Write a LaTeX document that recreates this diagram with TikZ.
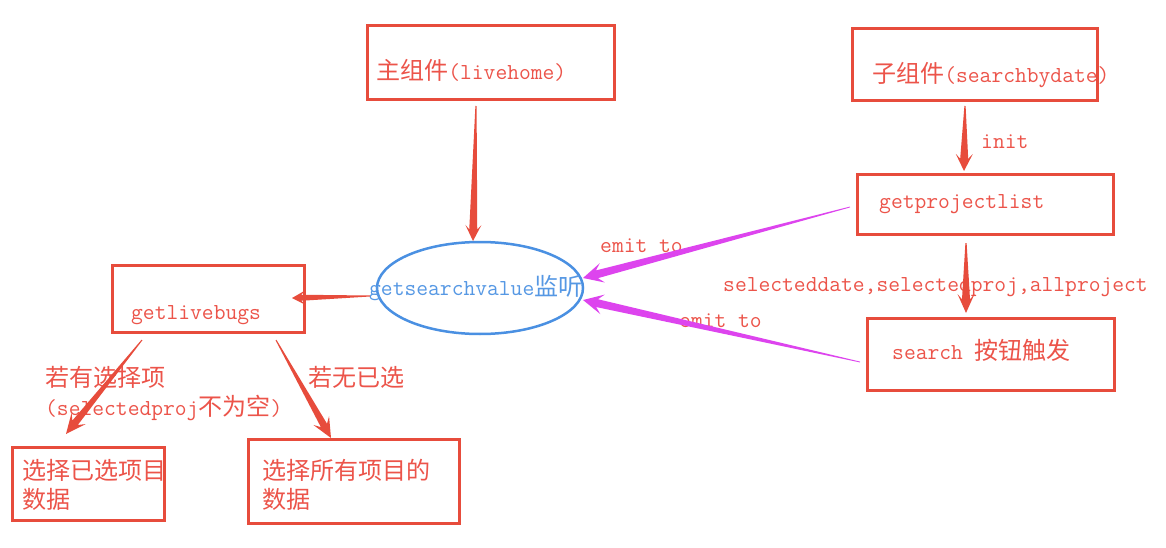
\documentclass[tikz,border=0pt]{standalone}
\usepackage{fontspec}
\newfontfamily\cjk{Noto Sans CJK SC}[Scale=1.05]
\usetikzlibrary{calc,shapes.geometric}
\definecolor{rd}{RGB}{231,76,60}
\definecolor{rdt}{RGB}{236,84,74}
\definecolor{mg}{RGB}{221,68,238}
\definecolor{bl}{RGB}{74,144,226}
\definecolor{blt}{RGB}{86,152,228}
% tapered arrow: #1 colour, #2 tail, #3 tip, #4 tail half width, #5 shaft half width, #6 head half width, #7 head length
\newcommand\tapr[7]{%
  \coordinate (tpW) at ($(#3)!#7!(#2)$);
  \coordinate (tpS) at ($(#3)!0.72*#7!(#2)$);
  \fill[#1] ($(#2)!#4!90:(#3)$) -- ($(tpS)!#5!90:(#3)$) -- ($(tpW)!#6!90:(#3)$) -- (#3)
    -- ($(tpW)!#6!-90:(#3)$) -- ($(tpS)!#5!-90:(#3)$) -- ($(#2)!#4!-90:(#3)$) -- cycle;
}
\begin{document}
\begin{tikzpicture}[x=1pt,y=-1pt,
  box/.style={draw=rd,line width=3pt,rectangle,inner sep=0pt},
  txt/.style={anchor=base west,inner sep=0pt,text=rdt,font=\ttfamily\fontsize{22.9}{27}\selectfont},
  btxt/.style={txt,text=blt}]
\useasboundingbox[fill=white] (0,0) rectangle (1166,548);
% boxes
\node[box,minimum width=247pt,minimum height=74pt] (lh) at (490.5,63) {};
\node[box,minimum width=245pt,minimum height=72pt] (sb) at (974.5,65) {};
\node[box,minimum width=256pt,minimum height=59pt] (gp) at (985,204.5) {};
\node[box,minimum width=247pt,minimum height=72pt] (sr) at (990.5,354) {};
\node[box,minimum width=192pt,minimum height=67pt] (gl) at (208,298.5) {};
\node[box,minimum width=152pt,minimum height=73pt] (s1) at (88,483.5) {};
\node[box,minimum width=211pt,minimum height=84pt] (s2) at (353.5,481) {};
\node[draw=bl,line width=2.5pt,ellipse,minimum width=206pt,minimum height=92pt,inner sep=0pt] (ev) at (480,288) {};
% texts
\node[txt] (tlh) at (376,80) {{\cjk 主组件}(livehome)};
\node[txt] (tsb) at (872,83) {{\cjk 子组件}(searchbydate)};
\node[txt] (tgp) at (879,208) {getprojectlist};
\node[txt] (tsr) at (892,359) {search {\cjk 按钮触发}};
\node[txt] (tgl) at (131,319) {getlivebugs};
\node[btxt] (tev) at (369,295) {getsearchvalue{\cjk 监听}};
\node[txt] (te1) at (600,252) {emit to};
\node[txt] (te2) at (679,327) {emit to};
\node[txt] (tsel) at (723,291) {selecteddate,selectedproj,allproject};
\node[txt] (tinit) at (981,149) {init};
\node[txt] (tc1) at (45,386) {{\cjk 若有选择项}};
\node[txt] (tc1b) at (45,415) {(selectedproj{\cjk 不为空})};
\node[txt] (tc2) at (308,386) {{\cjk 若无已选}};
\node[txt] (ts1a) at (22,479) {{\cjk 选择已选项目}};
\node[txt] (ts1b) at (22,508) {{\cjk 数据}};
\node[txt] (ts2a) at (262,479) {{\cjk 选择所有项目的}};
\node[txt] (ts2b) at (262,508) {{\cjk 数据}};
% connector end points
\coordinate (a1s) at (476,106); \coordinate (a1e) at (473,241);
\coordinate (a2s) at (965,106); \coordinate (a2e) at (964,171);
\coordinate (a3s) at (966,243); \coordinate (a3e) at (966,313);
\coordinate (a4s) at (370,296); \coordinate (a4e) at (292,298);
\coordinate (a5s) at (142,340); \coordinate (a5e) at (66,434);
\coordinate (a6s) at (276,340); \coordinate (a6e) at (331,438);
\coordinate (m1s) at (850,207); \coordinate (m1e) at (583,278);
\coordinate (m2s) at (860,362); \coordinate (m2e) at (583,300);
% connectors
\tapr{rd}{a1s}{a1e}{0.6pt}{4pt}{8pt}{16pt}
\tapr{rd}{a2s}{a2e}{0.6pt}{4pt}{8.5pt}{17pt}
\tapr{rd}{a3s}{a3e}{0.6pt}{4pt}{8.5pt}{19pt}
\tapr{rd}{a4s}{a4e}{0.5pt}{3pt}{7pt}{13pt}
\tapr{rd}{a5s}{a5e}{0.5pt}{3.5pt}{9pt}{20pt}
\tapr{rd}{a6s}{a6e}{0.5pt}{3.5pt}{9pt}{20pt}
\tapr{mg}{m1s}{m1e}{0.4pt}{4pt}{10pt}{20pt}
\tapr{mg}{m2s}{m2e}{0.4pt}{4pt}{10pt}{20pt}
\end{tikzpicture}
\end{document}
